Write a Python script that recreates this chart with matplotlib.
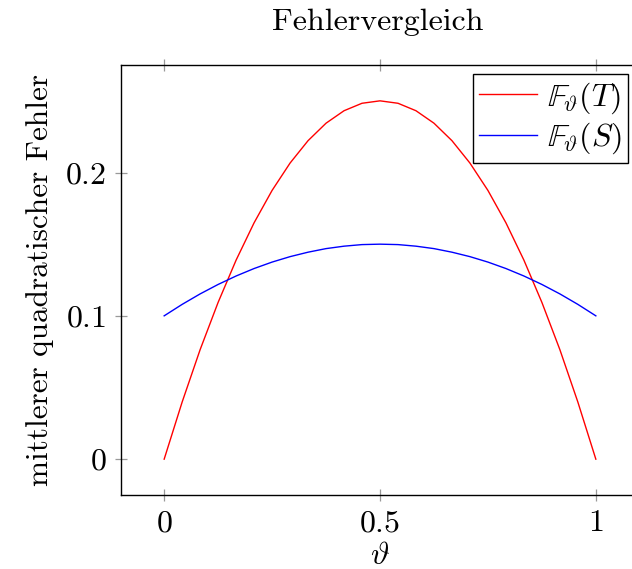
import matplotlib
matplotlib.use("Agg")
import matplotlib.pyplot as plt

plt.rcParams["font.family"] = "cmr10"
plt.rcParams["mathtext.fontset"] = "cm"
plt.rcParams["axes.formatter.use_mathtext"] = True
plt.rcParams["axes.unicode_minus"] = False

# values (25 samples)
theta = [0.0, 0.0417, 0.0833, 0.125, 0.1667, 0.2083, 0.25, 0.2917, 0.3333,
         0.375, 0.4167, 0.4583, 0.5, 0.5417, 0.5833, 0.625, 0.6667, 0.7083,
         0.75, 0.7917, 0.8333, 0.875, 0.9167, 0.9583, 1.0]
err_T = [0.0, 0.0399, 0.0764, 0.1094, 0.1389, 0.1649, 0.1875, 0.2066, 0.2222,
         0.2344, 0.2431, 0.2483, 0.25, 0.2483, 0.2431, 0.2344, 0.2222, 0.2066,
         0.1875, 0.1649, 0.1389, 0.1094, 0.0764, 0.0399, 0.0]
err_S = [0.1, 0.108, 0.1153, 0.1219, 0.1278, 0.133, 0.1375, 0.1413, 0.1444,
         0.1469, 0.1486, 0.1497, 0.15, 0.1497, 0.1486, 0.1469, 0.1444, 0.1413,
         0.1375, 0.133, 0.1278, 0.1219, 0.1153, 0.108, 0.1]
xticks = [0, 0.5, 1]
xtick_labels = ["$0$", "$0.5$", "$1$"]
yticks = [0, 0.1, 0.2]
ytick_labels = ["$0$", "$0.1$", "$0.2$"]

W, H = 632, 569
fig = plt.figure(figsize=(W / 100, H / 100), dpi=100)
ax = fig.add_axes([121 / W, 1 - 495 / H, (639 - 121) / W, (495 - 65) / H])

ax.plot(theta, err_T, color="red", lw=1.0, label=r"$\mathbb{F}_\vartheta(T)$")
ax.plot(theta, err_S, color="blue", lw=1.0, label=r"$\mathbb{F}_\vartheta(S)$")

ax.set_xlim(-0.1, 1.1)
ax.set_ylim(-0.025, 0.275)
ax.set_xticks(xticks)
ax.set_xticklabels(xtick_labels)
ax.set_yticks(yticks)
ax.set_yticklabels(ytick_labels)
ax.tick_params(direction="inout", length=9, width=0.9, color="#999999",
               labelsize=23, top=True, right=True, pad=6)
for s in ax.spines.values():
    s.set_linewidth(1.0)

ax.set_xlabel(r"$\vartheta$", fontsize=23, labelpad=4)
ax.set_ylabel("mittlerer quadratischer Fehler", fontsize=22.5, labelpad=8)
fig.text(378 / W, 1 - 22 / H, "Fehlervergleich", fontsize=23,
         ha="center", va="center")

leg = ax.legend(loc="upper right", bbox_to_anchor=(628 / W, 1 - 74 / H),
                bbox_transform=fig.transFigure, fontsize=23, fancybox=False,
                framealpha=1, edgecolor="black", borderpad=0.2,
                handlelength=1.8, handletextpad=0.3, labelspacing=0.15,
                borderaxespad=0)
leg.get_frame().set_linewidth(1.0)

fig.savefig("out.png", dpi=100)
